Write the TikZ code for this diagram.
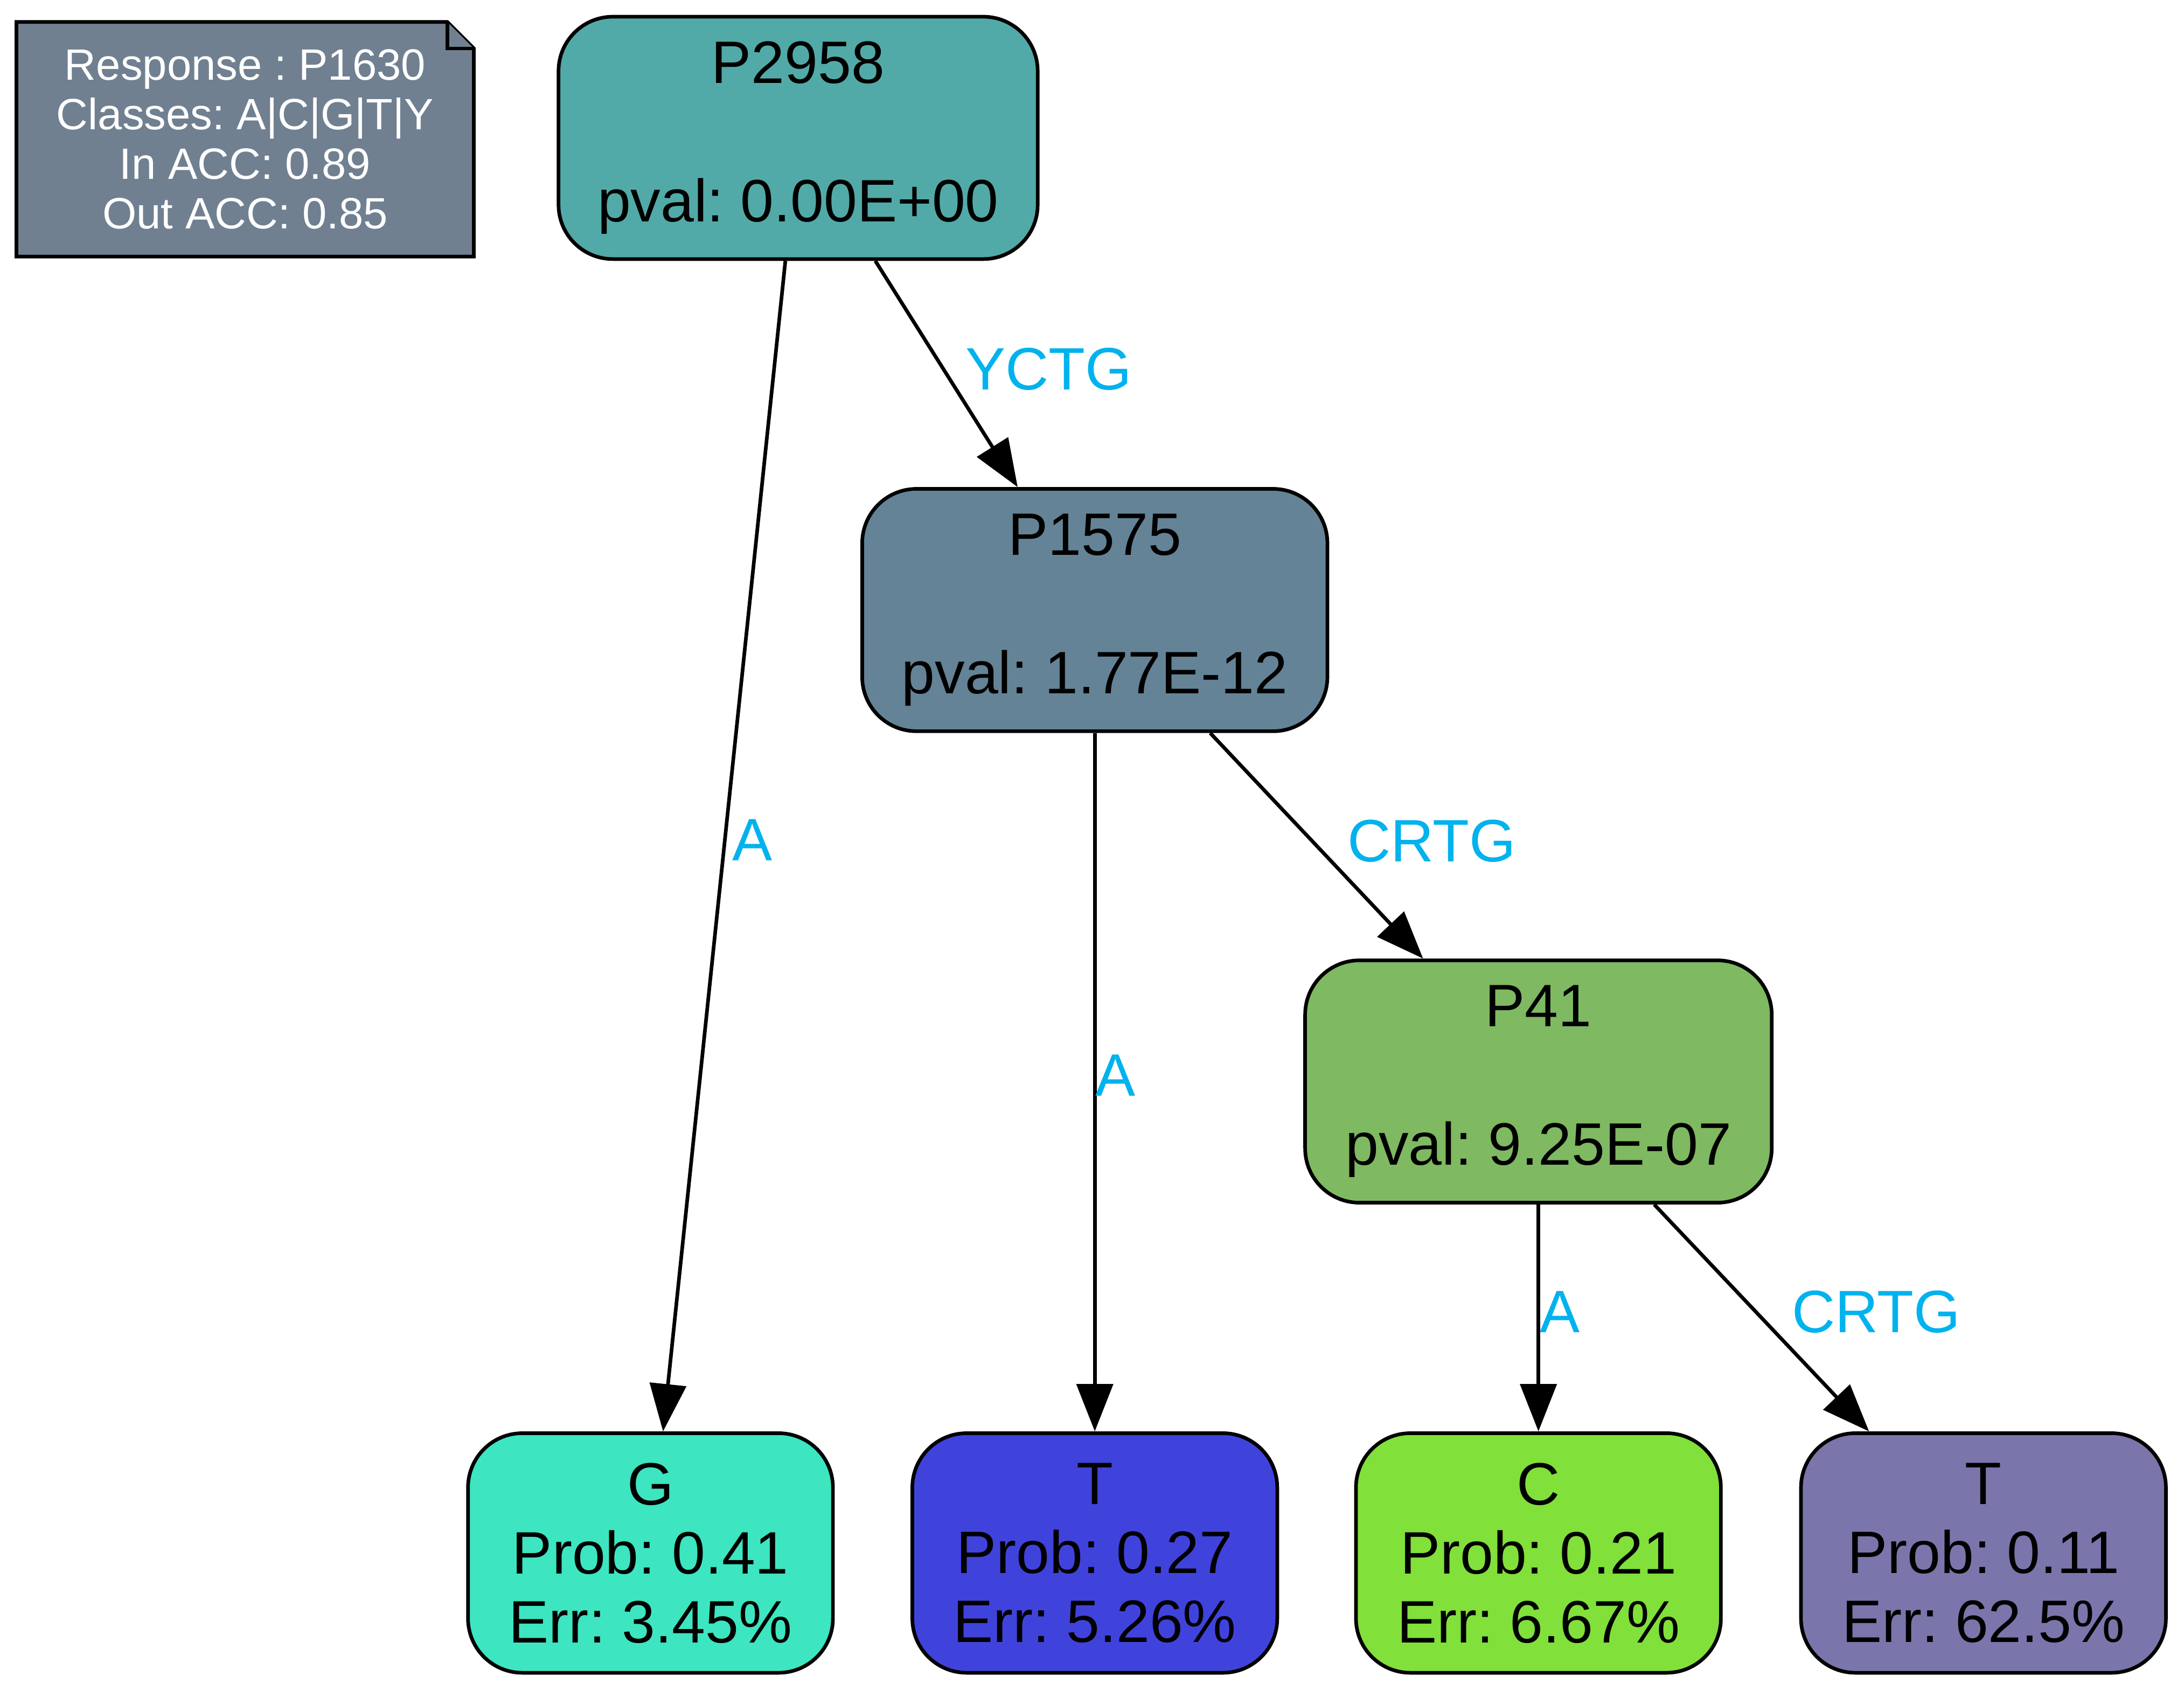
\documentclass[tikz,border=0pt]{standalone}
\usepackage{fontspec}
\setmainfont{Liberation Sans}
\usetikzlibrary{arrows.meta}
\pgfdeclarelayer{background}
\pgfsetlayers{background,main}
\definecolor{slate}{RGB}{112,128,144}
\definecolor{cP2958}{RGB}{82,170,168}
\definecolor{cP1575}{RGB}{100,131,150}
\definecolor{cP41}{RGB}{127,185,97}
\definecolor{cG}{RGB}{61,229,193}
\definecolor{cT}{RGB}{64,67,219}
\definecolor{cC}{RGB}{129,224,58}
\definecolor{cTT}{RGB}{122,118,171}
\definecolor{labelblue}{RGB}{0,178,238}
\begin{document}
\frenchspacing
\begin{tikzpicture}[x=1pt,y=-1pt,
  box/.style={draw=black, line width=2.6pt, rounded corners=39pt, align=center,
    inner sep=0pt, font=\fontsize{43}{49.5}\selectfont\frenchspacing},
  inner/.style={box, minimum height=174pt},
  leaf/.style={box, minimum width=262pt, minimum height=172pt},
  edge/.style={draw=black, line width=2.6pt, -{Triangle[length=34pt,width=26pt]}},
  elabel/.style={text=labelblue, font=\fontsize{43}{49.5}\selectfont, inner sep=0pt},
  notetext/.style={text=white, align=center, font=\fontsize{31.5}{35.5}\selectfont\frenchspacing,
    minimum width=328pt, minimum height=168pt, inner sep=0pt}]
\useasboundingbox (0,0) rectangle (1568,1214);

% legend note
\node[notetext] (note) at (176,100) {Response : P1630\\Classes: A|C|G|T|Y\\In ACC: 0.89\\Out ACC: 0.85};
\begin{pgfonlayer}{background}
\draw[line width=2.6pt, fill=slate, line join=miter]
  (note.north west) -- ([xshift=-19pt]note.north east) -- ([yshift=-19pt]note.north east)
  -- (note.south east) -- (note.south west) -- cycle;
\draw[line width=2.6pt, fill=slate, line join=miter]
  ([xshift=-19pt]note.north east) -- ([xshift=-19pt,yshift=-19pt]note.north east)
  -- ([yshift=-19pt]note.north east);
\end{pgfonlayer}

% inner nodes
\node[inner, fill=cP2958, minimum width=344pt] (P2958) at (573,99) {P2958\\[50pt]pval: 0.00E+00};
\node[inner, fill=cP1575, minimum width=334pt] (P1575) at (786,438) {P1575\\[50pt]pval: 1.77E-12};
\node[inner, fill=cP41, minimum width=335pt] (P41) at (1104.5,776.5) {P41\\[50pt]pval: 9.25E-07};

% leaves
\node[leaf, fill=cG] (G) at (467,1115) {G\\Prob: 0.41\\Err: 3.45\%};
\node[leaf, fill=cT] (T1) at (786,1115) {T\\Prob: 0.27\\Err: 5.26\%};
\node[leaf, fill=cC] (C) at (1104.5,1115) {C\\Prob: 0.21\\Err: 6.67\%};
\node[leaf, fill=cTT] (T2) at (1424,1115) {T\\Prob: 0.11\\Err: 62.5\%};

% edges
\draw[edge] (P2958) -- (G);
\draw[edge] (P2958) -- (P1575);
\draw[edge] (P1575) -- (T1);
\draw[edge] (P1575) -- (P41);
\draw[edge] (P41) -- (C);
\draw[edge] (P41) -- (T2);

% edge labels
\node[elabel] (lab1) at (540,603) {A};
\node[elabel] (lab2) at (753,265) {YCTG};
\node[elabel] (lab3) at (801,772) {A};
\node[elabel] (lab4) at (1028,604) {CRTG};
\node[elabel] (lab5) at (1120,942) {A};
\node[elabel] (lab6) at (1347,942) {CRTG};
\end{tikzpicture}
\end{document}
